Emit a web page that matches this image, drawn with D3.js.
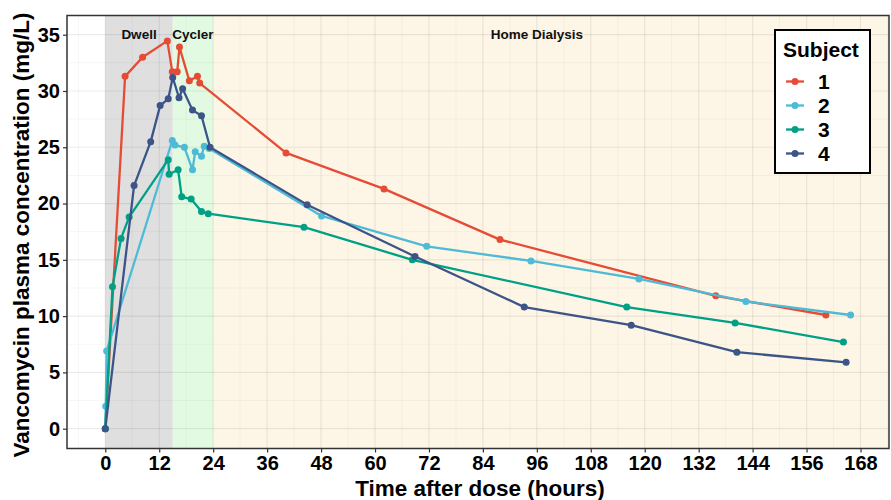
<!DOCTYPE html>
<html><head><meta charset="utf-8">
<script src="https://cdn.jsdelivr.net/npm/d3@7"></script>
<style>
body{margin:0;background:#fff;}
text{font-family:"Liberation Sans",Arial,sans-serif;font-weight:bold;}
</style></head>
<body><svg id="c" width="891" height="500"></svg>
<script>
// ---- data ----
const subjects = ["1","2","3","4"];
const colors = ["#E64B35","#4DBBD5","#00A087","#3C5488"];
const s1Hours = [0, 4.4, 8.3, 13.8, 14.9, 16.0, 16.5, 18.7, 20.5, 21.0, 40.2, 62.0, 87.8, 135.8, 160.3];
const s1Conc  = [0, 31.3, 33.0, 34.45, 31.7, 31.7, 33.9, 30.9, 31.3, 30.7, 24.5, 21.3, 16.8, 11.8, 10.1];
const s2Hours = [0, 0.1, 0.3, 14.9, 15.5, 17.6, 19.4, 20.0, 21.4, 22.0, 23.1, 48.1, 71.5, 94.7, 118.7, 142.5, 165.8];
const s2Conc  = [0, 2.0, 6.9, 25.6, 25.2, 25.0, 23.0, 24.6, 24.2, 25.1, 24.9, 18.9, 16.2, 14.9, 13.3, 11.3, 10.1];
const s3Hours = [0, 1.6, 3.5, 5.3, 14.0, 14.2, 16.2, 17.0, 19.1, 21.4, 22.9, 44.2, 68.3, 116.0, 140.1, 164.2];
const s3Conc  = [0, 12.6, 16.9, 18.8, 23.9, 22.6, 23.0, 20.6, 20.4, 19.3, 19.1, 17.9, 15.0, 10.8, 9.4, 7.7];
const s4Hours = [0, 6.4, 10.1, 12.2, 14.0, 15.0, 16.4, 17.2, 19.4, 21.4, 23.3, 44.9, 68.9, 93.2, 117.0, 140.5, 164.8];
const s4Conc  = [0, 21.6, 25.5, 28.7, 29.3, 31.2, 29.4, 30.2, 28.3, 27.8, 25.0, 19.9, 15.3, 10.8, 9.2, 6.8, 5.9];
const phaseNames = ["Dwell","Cycler","Home Dialysis"];
const phaseStart = [0, 15, 24];
const phaseEnd   = [15, 24, 180];
const phaseFill  = ["#dfdfdf","#e1fae1","#fdf5e5"];
const xTicks = [0,12,24,36,48,60,72,84,96,108,120,132,144,156,168];
const yTicks = [0,5,10,15,20,25,30,35];

const series = [
  {name:subjects[0], color:colors[0], hours:s1Hours, conc:s1Conc},
  {name:subjects[1], color:colors[1], hours:s2Hours, conc:s2Conc},
  {name:subjects[2], color:colors[2], hours:s3Hours, conc:s3Conc},
  {name:subjects[3], color:colors[3], hours:s4Hours, conc:s4Conc}
];

// ---- layout ----
const svg = d3.select("#c");
const P = {l:67, r:889, t:15.5, b:448.5};
const x = d3.scaleLinear().domain([0,168]).range([105.3, 860.5]);
const y = d3.scaleLinear().domain([0,35]).range([428.7, 34.7]);
const xMax = x.invert(P.r);

svg.append("defs").append("clipPath").attr("id","clip")
  .append("rect").attr("x",P.l).attr("y",P.t).attr("width",P.r-P.l).attr("height",P.b-P.t);

const panel = svg.append("g").attr("clip-path","url(#clip)");
panel.append("rect").attr("x",P.l).attr("y",P.t).attr("width",P.r-P.l).attr("height",P.b-P.t).attr("fill","#fff");

// bands
panel.selectAll("rect.band").data(phaseNames).enter().append("rect")
  .attr("class","band")
  .attr("x",(d,i)=>x(phaseStart[i]))
  .attr("width",(d,i)=>x(Math.min(phaseEnd[i],xMax+5))-x(phaseStart[i]))
  .attr("y",P.t).attr("height",P.b-P.t)
  .attr("fill",(d,i)=>phaseFill[i]);

// grid
const xMinor = d3.range(-6, 180, 6).filter(v=>v%12!==0);
const yMinor = d3.range(-2.5, 40, 5);
panel.selectAll("line.xmin").data(xMinor).enter().append("line")
  .attr("x1",d=>x(d)).attr("x2",d=>x(d)).attr("y1",P.t).attr("y2",P.b)
  .attr("stroke","rgba(0,0,0,0.035)").attr("stroke-width",1);
panel.selectAll("line.ymin").data(yMinor).enter().append("line")
  .attr("y1",d=>y(d)).attr("y2",d=>y(d)).attr("x1",P.l).attr("x2",P.r)
  .attr("stroke","rgba(0,0,0,0.035)").attr("stroke-width",1);
panel.selectAll("line.xmaj").data(xTicks).enter().append("line")
  .attr("x1",d=>x(d)).attr("x2",d=>x(d)).attr("y1",P.t).attr("y2",P.b)
  .attr("stroke","rgba(0,0,0,0.075)").attr("stroke-width",1.2);
panel.selectAll("line.ymaj").data(yTicks).enter().append("line")
  .attr("y1",d=>y(d)).attr("y2",d=>y(d)).attr("x1",P.l).attr("x2",P.r)
  .attr("stroke","rgba(0,0,0,0.075)").attr("stroke-width",1.2);

// phase labels
const labelY = [35,35,35];
panel.selectAll("text.phase").data(phaseNames).enter().append("text")
  .attr("x",(d,i)=>x(i<2 ? (phaseStart[i]+phaseEnd[i])/2 : (24+168)/2))
  .attr("y",(d,i)=>y(labelY[i]))
  .attr("dy","0.35em").attr("text-anchor","middle")
  .attr("font-size",13.5).attr("fill","#111").text(d=>d);

// lines and points
const line = d3.line().x(d=>x(d[0])).y(d=>y(d[1]));
series.forEach(s=>{
  const pts = s.hours.map((h,i)=>[h,s.conc[i]]);
  panel.append("path").datum(pts).attr("d",line)
    .attr("fill","none").attr("stroke",s.color).attr("stroke-width",2.3).attr("stroke-linejoin","round");
  panel.selectAll(null).data(pts).enter().append("circle")
    .attr("cx",d=>x(d[0])).attr("cy",d=>y(d[1])).attr("r",3.5).attr("fill",s.color);
});

// border
svg.append("rect").attr("x",P.l).attr("y",P.t).attr("width",P.r-P.l).attr("height",P.b-P.t)
  .attr("fill","none").attr("stroke","#333").attr("stroke-width",1.5);

// axes
const xAxis = svg.append("g").attr("transform",`translate(0,${P.b})`)
  .call(d3.axisBottom(x).tickValues(xTicks).tickSize(4).tickPadding(3));
const yAxis = svg.append("g").attr("transform",`translate(${P.l},0)`)
  .call(d3.axisLeft(y).tickValues(yTicks).tickSize(4).tickPadding(3));
[xAxis,yAxis].forEach(a=>{
  a.select(".domain").remove();
  a.selectAll(".tick line").attr("stroke","#333").attr("stroke-width",1.2);
  a.selectAll(".tick text").attr("fill","#000").attr("font-size",20)
   .attr("font-family","'Liberation Sans',Arial,sans-serif").attr("font-weight","bold");
});

// titles
svg.append("text").attr("x",(P.l+P.r)/2 + 2).attr("y",496).attr("text-anchor","middle")
  .attr("font-size",22.5).attr("fill","#000").text("Time after dose (hours)");
svg.append("text").attr("transform",`translate(29,${(P.t+P.b)/2 + 3}) rotate(-90)`).attr("text-anchor","middle")
  .attr("font-size",22.5).attr("fill","#000").text("Vancomycin plasma concentration (mg/L)");

// legend
const lg = svg.append("g");
lg.append("rect").attr("x",775).attr("y",30).attr("width",95).attr("height",143)
  .attr("fill","#fff").attr("stroke","#000").attr("stroke-width",2);
lg.append("text").attr("x",783).attr("y",57).attr("font-size",21).attr("fill","#000").text("Subject");
const li = lg.selectAll("g.item").data(series).enter().append("g")
  .attr("transform",(d,i)=>`translate(0,${81.5+i*24})`);
li.append("line").attr("x1",786).attr("x2",804).attr("stroke",d=>d.color).attr("stroke-width",2.3);
li.append("circle").attr("cx",795).attr("r",3.5).attr("fill",d=>d.color);
li.append("text").attr("x",818).attr("dy","0.36em").attr("font-size",21).attr("fill","#000").text(d=>d.name);
</script></body></html>
